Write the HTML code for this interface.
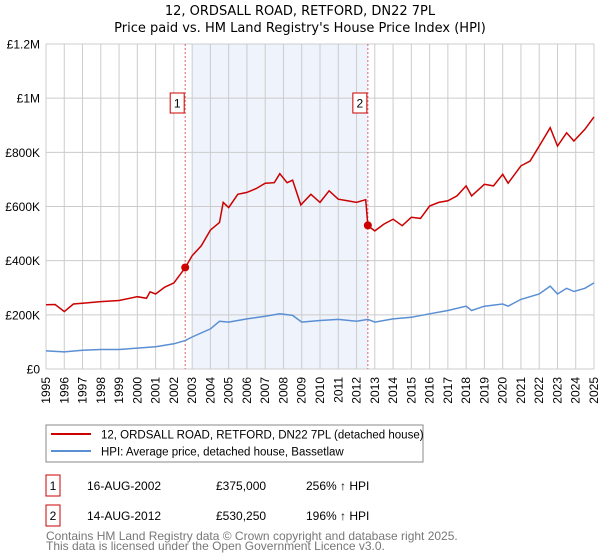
<!DOCTYPE html>
<html><head><meta charset="utf-8"><style>
body{margin:0;background:#fff;font-family:"Liberation Sans","DejaVu Sans",sans-serif;}
#wrap{position:relative;width:600px;height:560px;overflow:hidden;}
</style></head><body>
<div id="wrap">
<svg id="svg" width="600" height="560" xmlns="http://www.w3.org/2000/svg" font-family="Liberation Sans, DejaVu Sans, sans-serif">
<text x="300" y="15" text-anchor="middle" font-size="13" font-family="DejaVu Sans, sans-serif">12, ORDSALL ROAD, RETFORD, DN22 7PL</text>
<text x="300" y="32" text-anchor="middle" font-size="13" font-family="DejaVu Sans, sans-serif">Price paid vs. HM Land Registry's House Price Index (HPI)</text>
<g id="plot"></g>
<rect x="46" y="425" width="377" height="37" fill="#fff" stroke="#888"/>
<line x1="51" y1="434" x2="91" y2="434" stroke="#cc0000" stroke-width="2"/>
<text x="101" y="438.5" font-size="11.5">12, ORDSALL ROAD, RETFORD, DN22 7PL (detached house)</text>
<line x1="51" y1="451" x2="91" y2="451" stroke="#5b8fd4" stroke-width="2"/>
<text x="101" y="455.5" font-size="11.5">HPI: Average price, detached house, Bassetlaw</text>
<g font-size="12">
<rect x="46" y="475" width="14" height="21" fill="none" stroke="#cc0000"/>
<text x="53" y="490" text-anchor="middle">1</text>
<text x="87" y="490">16-AUG-2002</text>
<text x="216" y="490">£375,000</text>
<text x="306" y="490">256% ↑ HPI</text>
<rect x="46" y="505" width="14" height="21" fill="none" stroke="#cc0000"/>
<text x="53" y="520" text-anchor="middle">2</text>
<text x="87" y="520">14-AUG-2012</text>
<text x="216" y="520">£530,250</text>
<text x="306" y="520">196% ↑ HPI</text>
</g>
<text x="46" y="540" font-size="12" fill="#777">Contains HM Land Registry data © Crown copyright and database right 2025.</text>
<text x="46" y="550" font-size="12" fill="#777">This data is licensed under the Open Government Licence v3.0.</text>
</svg>
</div>
<script>
const yTicks=[0,200,400,600,800,1000,1200];
const yTickLabels=["£0","£200K","£400K","£600K","£800K","£1M","£1.2M"];
const xYears=[1995,1996,1997,1998,1999,2000,2001,2002,2003,2004,2005,2006,2007,2008,2009,2010,2011,2012,2013,2014,2015,2016,2017,2018,2019,2020,2021,2022,2023,2024,2025];
const propT=[1995,1995.5,1996,1996.5,1997,1998,1999,2000,2000.5,2000.7,2001,2001.5,2002,2002.62,2003,2003.5,2004,2004.5,2004.7,2005,2005.5,2006,2006.5,2007,2007.5,2007.8,2008.2,2008.5,2008.95,2009.5,2010,2010.5,2011,2011.5,2012,2012.5,2012.62,2013,2013.5,2014,2014.5,2015,2015.5,2016,2016.5,2017,2017.5,2018,2018.3,2019,2019.5,2020,2020.3,2021,2021.5,2022,2022.6,2023,2023.5,2023.9,2024.5,2025];
const propV=[237,238,212,240,243,249,253,267,261,285,277,302,318,374,418,455,513,541,615,596,645,652,666,686,688,721,688,697,606,645,615,658,627,621,615,625,529,510,535,553,529,560,556,602,615,621,639,676,639,682,676,719,686,750,768,823,891,823,872,842,885,931];
const hpiT=[1995,1996,1997,1998,1999,2000,2001,2002,2002.62,2003,2004,2004.5,2005,2006,2007,2007.8,2008.5,2009,2010,2011,2012,2012.62,2013,2014,2015,2016,2017,2018,2018.3,2019,2020,2020.3,2021,2022,2022.6,2023,2023.5,2023.9,2024.5,2025];
const hpiV=[67,63,69,72,72,77,82,93,105,118,148,176,173,185,195,204,198,173,179,183,176,183,173,185,191,204,216,232,216,232,240,232,257,277,306,277,298,286,298,318];
const sales=[{n:"1",t:2002.62,v:375},{n:"2",t:2012.62,v:530.25}];
const shadeRange=[2003.0,2012.62];

const X0=46,X1=594,Y0=369,Y1=44;
const xs=t=>X0+(t-1995)/30*(X1-X0);
const ys=v=>Y0-v/1200*(Y0-Y1);
const NS="http://www.w3.org/2000/svg";
const g=document.getElementById('plot');
function mk(tag,attrs){const e=document.createElementNS(NS,tag);for(const k in attrs)e.setAttribute(k,attrs[k]);g.appendChild(e);return e;}

let e=mk('rect',{x:xs(shadeRange[0]),y:Y1,width:xs(shadeRange[1])-xs(shadeRange[0]),height:Y0-Y1,fill:'#eef3fc'});


xYears.forEach(yr=>{
  const l=mk('line',{x1:xs(yr),x2:xs(yr),y1:Y1,y2:Y0,stroke:'#cccccc','stroke-width':1});
  
  
  const tx=mk('text',{transform:`translate(${xs(yr)+4},377) rotate(-90)`,'text-anchor':'end','font-size':12});
  tx.textContent=yr;
  
  
});
yTicks.forEach((v,i)=>{
  const l=mk('line',{x1:X0,x2:X1,y1:ys(v),y2:ys(v),stroke:'#cccccc','stroke-width':1});
  
  
  const tx=mk('text',{x:40,y:ys(v)+4.5,'text-anchor':'end','font-size':12});
  tx.textContent=yTickLabels[i];
  
  
});
sales.forEach(s=>{
  const l=mk('line',{x1:xs(s.t),x2:xs(s.t),y1:Y1,y2:Y0,stroke:'#e06060','stroke-dasharray':'2,2','stroke-width':1});
  
  
});
function path(T,V,col,name){
  const p=mk('path',{d:T.map((t,i)=>(i?'L':'M')+xs(t).toFixed(1)+','+ys(V[i]).toFixed(1)).join(''),fill:'none',stroke:col,'stroke-width':1.5});
  
  
}
path(hpiT,hpiV,'#5b8fd4','hpi-line');
path(propT,propV,'#cc0000','property-price-line');
sales.forEach(s=>{
  const c=mk('circle',{cx:xs(s.t),cy:ys(s.v),r:4,fill:'#cc0000'});
  
  
  const bx=xs(s.t)-8;
  const r=mk('rect',{x:bx-7,y:93,width:14,height:20,fill:'#fff',stroke:'#cc0000'});
  
  
  const t=mk('text',{x:bx,y:107.5,'text-anchor':'middle','font-size':12});
  t.textContent=s.n;
  
  
});
</script>
</body></html>
